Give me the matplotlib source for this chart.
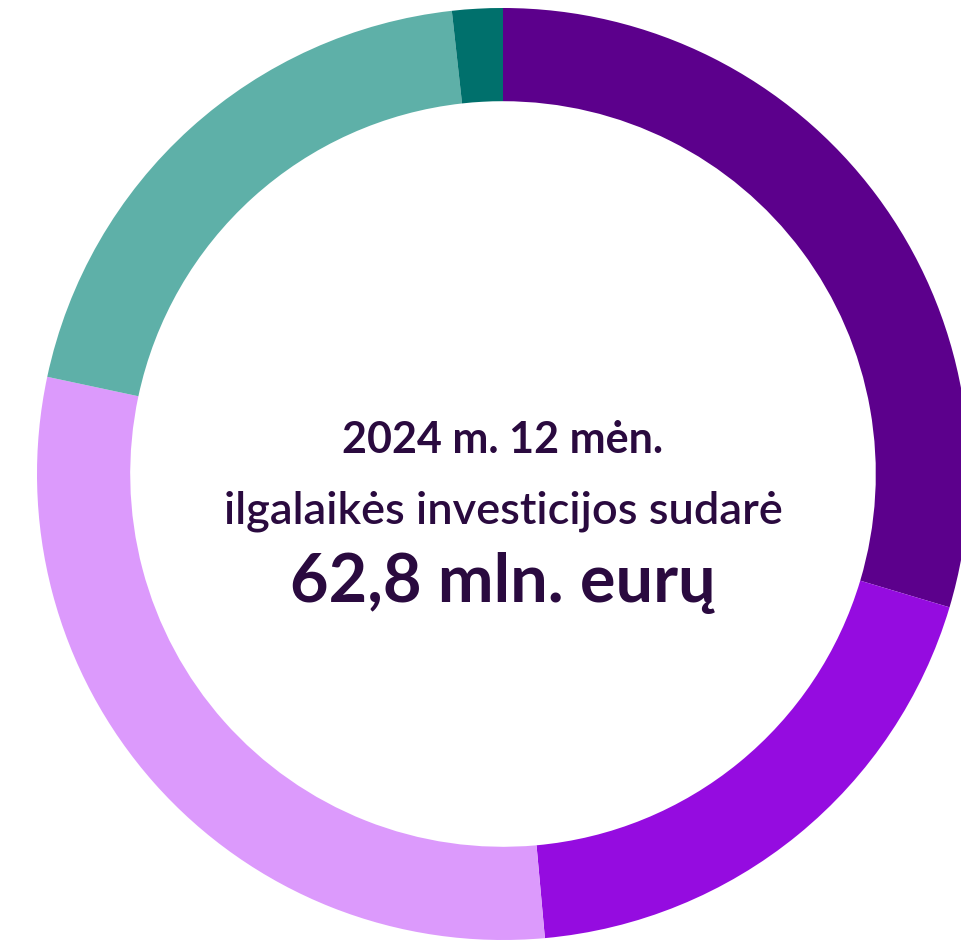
import matplotlib.pyplot as plt

# shares of long-term investments, mln. EUR (read from the ring)
values = [18.6, 11.9, 18.7, 12.5, 1.1]
colors = ["#5c008c", "#950ce0", "#dc9afc", "#5eb0a8", "#00706c"]

title_lines = ["2024 m. 12 mėn.", "ilgalaikės investicijos sudarė"]
total_label = "62,8 mln. eurų"
text_color = "#2a0a3f"

W, H = 961, 940
fig = plt.figure(figsize=(W / 100, H / 100), dpi=100)
ax = fig.add_axes([0, 0, 1, 1])

cx, cy, r_out = 503, 474, 466
# y axis runs downwards (pixel rows), so -90 points to the top
ax.pie(values, colors=colors, startangle=-90, counterclock=True,
       center=(cx, cy), radius=r_out, frame=True,
       wedgeprops=dict(width=r_out * 0.2, linewidth=0))
ax.set_xlim(0, W)
ax.set_ylim(H, 0)
ax.set_aspect("equal")
ax.axis("off")

ax.text(cx, 453, title_lines[0], ha="center", va="baseline", fontsize=31,
        fontfamily="Lato", fontweight="bold", color=text_color)
ax.text(cx, 524, title_lines[1], ha="center", va="baseline", fontsize=32.5,
        fontfamily="Lato", fontweight="semibold", color=text_color)
ax.text(cx, 602, total_label, ha="center", va="baseline", fontsize=48,
        fontfamily="Lato", fontweight="bold", color=text_color)

fig.savefig("out.png", dpi=100, facecolor="white")
